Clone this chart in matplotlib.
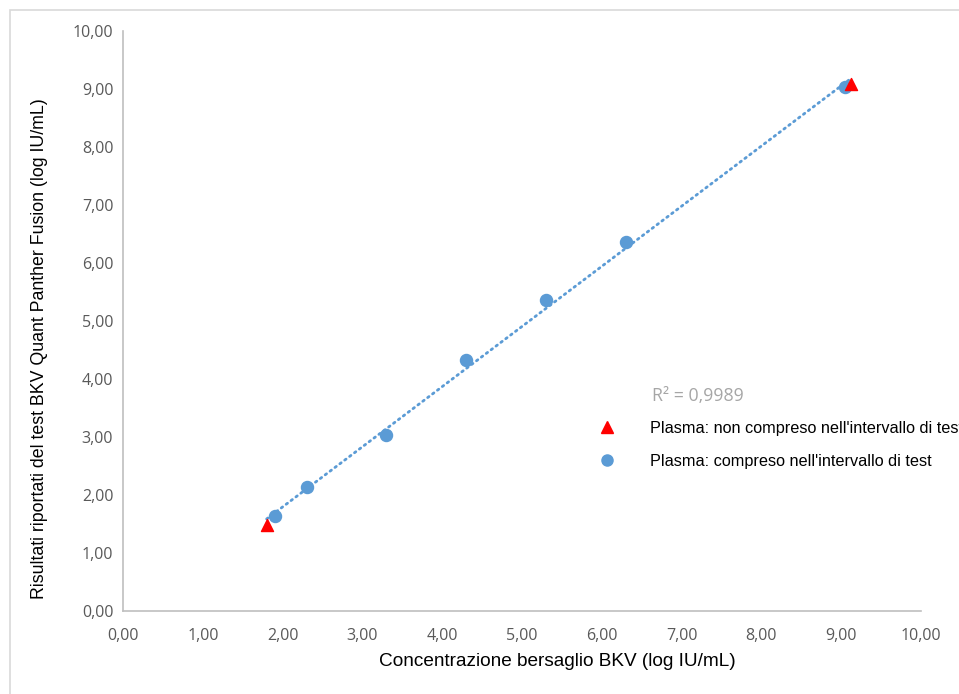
import numpy as np
import matplotlib
matplotlib.use("Agg")
import matplotlib.pyplot as plt
from matplotlib.ticker import FuncFormatter, MultipleLocator
from matplotlib.lines import Line2D
from matplotlib.patches import Rectangle

# data
x_in = [1.90, 2.30, 3.30, 4.30, 5.30, 6.30, 9.05]
y_in = [1.64, 2.14, 3.03, 4.33, 5.36, 6.36, 9.03]
x_out = [1.80, 9.12]
y_out = [1.48, 9.09]
r2_label = "R² = 0,9989"
label_out = "Plasma: non compreso nell'intervallo di test"
label_in = "Plasma: compreso nell'intervallo di test"
xlabel = "Concentrazione bersaglio BKV (log IU/mL)"
ylabel = "Risultati riportati del test BKV Quant Panther Fusion (log IU/mL)"

blue = "#5B9BD5"
red = "#FF0000"
grey_txt = "#595959"

fig = plt.figure(figsize=(9.59, 6.94), dpi=100)
# outer chart border (right/bottom edges fall off the picture)
fig.patches.append(Rectangle((10 / 959, -10 / 694), 960 / 959, 694 / 694,
                             transform=fig.transFigure, fill=False,
                             edgecolor="#D9D9D9", linewidth=1.2))
ax = fig.add_axes([123 / 959, 1 - 611 / 694, 798 / 959, 580 / 694])

# trendline over all points
xa = np.array(x_in + x_out)
ya = np.array(y_in + y_out)
k, b = np.polyfit(xa, ya, 1)
xt = np.array([xa.min(), xa.max()])
ax.plot(xt, k * xt + b, linestyle=(0, (0.6, 1.6)), color=blue, linewidth=2,
        dash_capstyle="round", zorder=2)

ax.scatter(x_in, y_in, s=75, color=blue, zorder=3)
ax.scatter(x_out, y_out, s=75, marker="^", color=red, zorder=3)

ax.set_xlim(0, 10)
ax.set_ylim(0, 10)
ax.xaxis.set_major_locator(MultipleLocator(1))
ax.yaxis.set_major_locator(MultipleLocator(1))
fmt = FuncFormatter(lambda v, p: ("%.2f" % v).replace(".", ","))
ax.xaxis.set_major_formatter(fmt)
ax.yaxis.set_major_formatter(fmt)
for s in ["top", "right"]:
    ax.spines[s].set_visible(False)
for s in ["left", "bottom"]:
    ax.spines[s].set_color("#BFBFBF")
    ax.spines[s].set_linewidth(1.2)
ax.tick_params(length=0, labelsize=11.5, labelcolor=grey_txt)
ax.tick_params(axis="x", pad=12)
ax.tick_params(axis="y", pad=7)
for t in ax.get_xticklabels() + ax.get_yticklabels():
    t.set_family(["Open Sans", "DejaVu Sans"])

ax.set_xlabel(xlabel, fontsize=13.7, family="Liberation Sans", va="center")
ax.xaxis.set_label_coords((557 - 123) / 798, (611 - 662) / 580)
ax.set_ylabel(ylabel, fontsize=12.8, family="Liberation Sans", va="center")
ax.yaxis.set_label_coords((40 - 123) / 798, (611 - 349) / 580)

fig.text(652 / 959, 1 - 396 / 694, r2_label, fontsize=12.8, color="#A6A6A6",
         family="Open Sans", va="center", ha="left")

# legend runs off the right edge, as in the reference
handles = [
    Line2D([], [], marker="^", color=red, linestyle="none", markersize=8.5),
    Line2D([], [], marker="o", color=blue, linestyle="none", markersize=8),
]
fig.legend(handles, [label_out, label_in], loc="upper left",
           bbox_to_anchor=(583 / 959, 1 - 413 / 694), frameon=False,
           prop={"family": "Liberation Sans", "size": 11.7},
           handletextpad=1.65, labelspacing=1.07, borderpad=0)

fig.savefig("out.png", dpi=100)
